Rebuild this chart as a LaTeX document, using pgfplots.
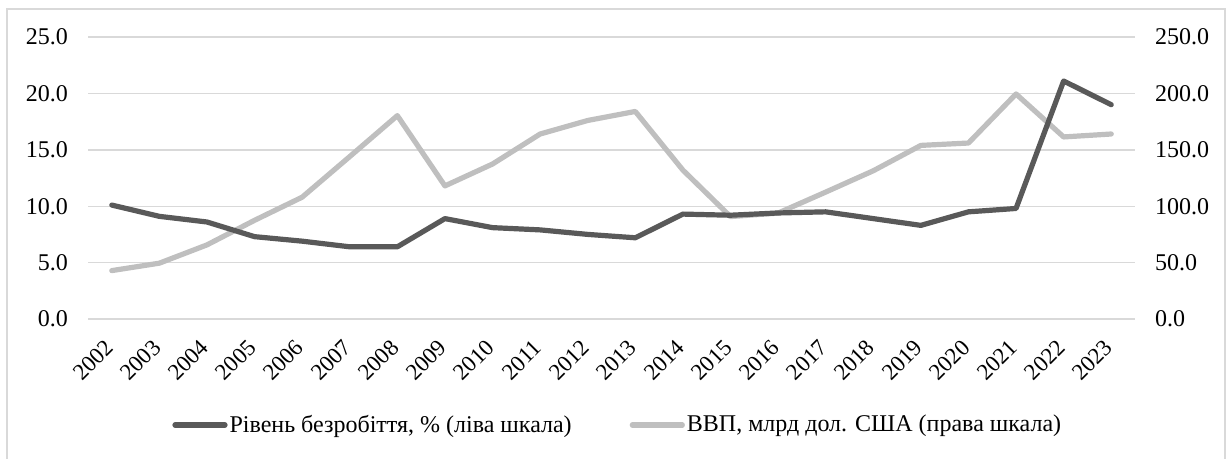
\documentclass[border=0pt]{standalone}
\usepackage{fontspec}
\setmainfont{Liberation Serif}
\usepackage{pgfplots}
\pgfplotsset{compat=1.18}
\definecolor{darkline}{HTML}{595959}
\definecolor{lightline}{HTML}{BFBFBF}
\definecolor{gridc}{HTML}{D9D9D9}
\begin{document}
\begin{tikzpicture}
\useasboundingbox (0,0) rectangle (614.5pt,-229.5pt);
\draw[gridc, line width=0.7pt] (3.5pt,-229.5pt) -- (3.5pt,-4.5pt) -- (612.5pt,-4.5pt) -- (612.5pt,-229.5pt);
\pgfplotsset{
  common/.style={
    at={(44pt,-159.5pt)}, anchor=south west, scale only axis,
    width=523.5pt, height=141pt,
    xmin=-0.5, xmax=21.5,
    xtick={0,...,21},
    major tick length=0pt,
    axis line style={draw=none},
    tick label style={font=\rmfamily\fontsize{12}{14}\selectfont},
    /pgf/number format/.cd, fixed, fixed zerofill, precision=1, assume math mode=true,
  },
}
% right axis (GDP) drawn first, with grid
\begin{axis}[common,
  ymin=0, ymax=250, ytick={0,50,...,250},
  axis y line*=right,
  axis x line=none,
  ymajorgrids, grid style={gridc, line width=0.7pt},
  yticklabel style={xshift=6.5pt},
]
\addplot[lightline, line width=2.6pt, line join=round, line cap=round] coordinates {
(0,42.9) (1,49.5) (2,65.7) (3,87.5) (4,108) (5,144) (6,180.3) (7,118) (8,137.4) (9,164) (10,176) (11,184)
(12,132) (13,90.8) (14,93.9) (15,112.5) (16,131.4) (17,153.9) (18,156) (19,199.5) (20,161.4) (21,164)
};
\end{axis}
% left axis (unemployment)
\begin{axis}[common,
  ymin=0, ymax=25, ytick={0,5,...,25},
  axis y line*=left,
  xticklabels={2002,2003,2004,2005,2006,2007,2008,2009,2010,2011,2012,2013,2014,2015,2016,2017,2018,2019,2020,2021,2022,2023},
  xticklabel style={xshift=-4pt, yshift=-8pt, rotate=45, anchor=north east, inner sep=1pt, font=\rmfamily\fontsize{11.5}{13}\selectfont},
  yticklabel style={xshift=-6.5pt},
  legend style={draw=none, fill=none, at={(0.506,-0.376)}, anchor=center,
    legend columns=2, font=\rmfamily\fontsize{12}{14}\selectfont,
    /tikz/every even column/.append style={column sep=28pt},
    nodes={inner sep=1pt}},
  legend image code/.code={\draw[#1, line cap=round] (0pt,0pt) -- (25pt,0pt);},
]
\addplot[darkline, line width=2.6pt, line join=round, line cap=round] coordinates {
(0,10.1) (1,9.1) (2,8.6) (3,7.3) (4,6.9) (5,6.4) (6,6.4) (7,8.9) (8,8.1) (9,7.9) (10,7.5) (11,7.2)
(12,9.3) (13,9.2) (14,9.4) (15,9.5) (16,8.9) (17,8.3) (18,9.5) (19,9.8) (20,21.1) (21,19.0)
};
\addlegendentry{Рівень безробіття, \% (ліва шкала)}
\addlegendimage{lightline, line width=2.6pt}
\addlegendentry{ВВП, млрд дол. США (права шкала)}
\end{axis}
\end{tikzpicture}
\end{document}
